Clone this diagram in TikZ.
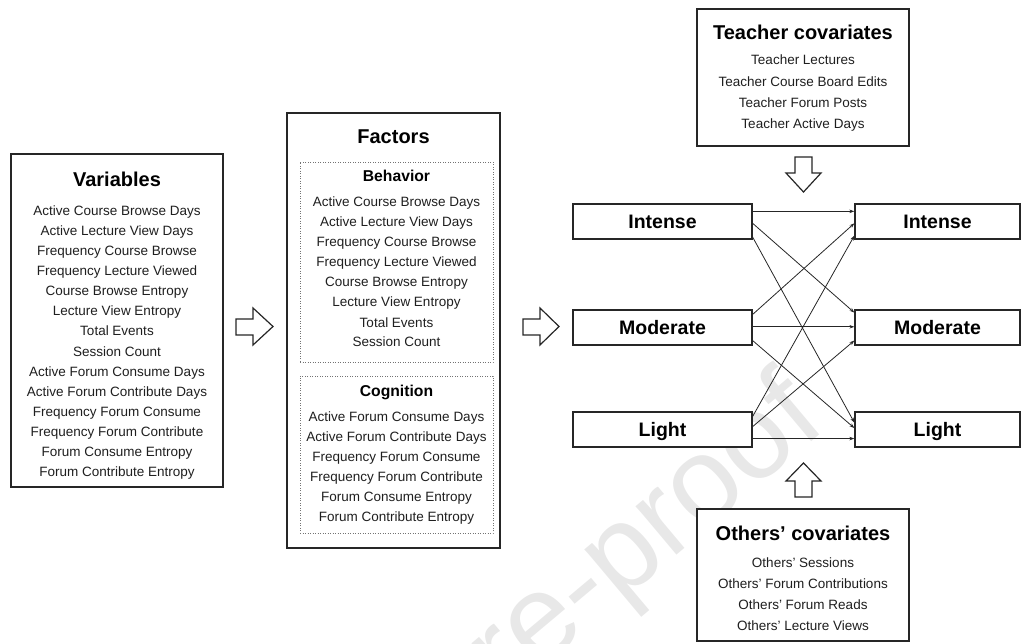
\documentclass[tikz,border=0pt]{standalone}
\usepackage{fontspec}
\setmainfont{Liberation Sans}
\usetikzlibrary{calc,arrows.meta}
\begin{document}
\begin{tikzpicture}[x=1pt,y=-1pt,
  box/.style={draw=black!85, line width=1.3pt, fill=white, inner sep=0pt},
  dotbox/.style={draw=black!55, line width=0.9pt, dash pattern=on 0.9pt off 1.6pt, inner sep=0pt},
  body/.style={font=\fontsize{13.5}{16}\selectfont, text=black!88, inner sep=0pt, anchor=base},
  ttl/.style={font=\fontsize{20}{24}\selectfont\bfseries, text=black, inner sep=0pt, anchor=base},
  subttl/.style={font=\fontsize{15.7}{19}\selectfont\bfseries, text=black, inner sep=0pt, anchor=base},
  lvl/.style={box, minimum height=35pt, text height=14pt, text depth=0pt, font=\fontsize{19.5}{23}\selectfont\bfseries},
  lvlL/.style={lvl, minimum width=179pt},
  lvlR/.style={lvl, minimum width=165pt},
  conn/.style={draw=black!85, line width=0.8pt, -{Stealth[length=5pt,width=3.5pt]}},
  blk/.style={draw=black!85, line width=1.2pt, fill=white, line join=miter},
  wmark/.style={font=\fontsize{120}{125}\selectfont, text=black!9, rotate=40, anchor=base east, inner sep=0pt}
]
\useasboundingbox (0,0) rectangle (1023,644);
\begin{scope}
\clip (0,0) rectangle (1023,644);
\node[wmark] (wm) at (829,427) {Journal Pre-proof};
\end{scope}

% Variables
\node[box, minimum width=212pt, minimum height=333pt] (var) at (117,320.5) {};
\node[ttl] (varT) at (117,187) {Variables};
\foreach \t [count=\i] in {Active Course Browse Days, Active Lecture View Days, Frequency Course Browse, Frequency Lecture Viewed, Course Browse Entropy, Lecture View Entropy, Total Events, Session Count, Active Forum Consume Days, Active Forum Contribute Days, Frequency Forum Consume, Frequency Forum Contribute, Forum Consume Entropy, Forum Contribute Entropy}
  \node[body] (var\i) at (117,{216+(\i-1)*20}) {\t};

% Factors
\node[box, minimum width=213pt, minimum height=435pt] (fac) at (393.5,330.5) {};
\node[ttl] (facT) at (393.5,144) {Factors};
\node[dotbox, minimum width=193pt, minimum height=200pt] (beh) at (396.5,262) {};
\node[subttl] (behT) at (396.5,181.6) {Behavior};
\foreach \t [count=\i] in {Active Course Browse Days, Active Lecture View Days, Frequency Course Browse, Frequency Lecture Viewed, Course Browse Entropy, Lecture View Entropy, Total Events, Session Count}
  \node[body] (beh\i) at (396.5,{207+(\i-1)*20}) {\t};
\node[dotbox, minimum width=193pt, minimum height=157pt] (cog) at (396.5,454.5) {};
\node[subttl] (cogT) at (396.5,396.6) {Cognition};
\foreach \t [count=\i] in {Active Forum Consume Days, Active Forum Contribute Days, Frequency Forum Consume, Frequency Forum Contribute, Forum Consume Entropy, Forum Contribute Entropy}
  \node[body] (cog\i) at (396.5,{421+(\i-1)*20}) {\t};

% Teacher covariates
\node[box, minimum width=212pt, minimum height=137pt] (tea) at (803,77.5) {};
\node[ttl] (teaT) at (803,40) {Teacher covariates};
\foreach \t [count=\i] in {Teacher Lectures, Teacher Course Board Edits, Teacher Forum Posts, Teacher Active Days}
  \node[body] (tea\i) at (803,{65+(\i-1)*21.3}) {\t};

% Others' covariates
\node[box, minimum width=212pt, minimum height=132pt] (oth) at (803,575) {};
\node[ttl] (othT) at (803,540) {Others’ covariates};
\foreach \t [count=\i] in {Others’ Sessions, Others’ Forum Contributions, Others’ Forum Reads, Others’ Lecture Views}
  \node[body] (oth\i) at (803,{567+(\i-1)*21}) {\t};

% Levels
\node[lvlL] (li) at (662.5,221.5) {Intense};
\node[lvlL] (lm) at (662.5,327.5) {Moderate};
\node[lvlL] (ll) at (662.5,429.5) {Light};
\node[lvlR] (ri) at (937.5,221.5) {Intense};
\node[lvlR] (rm) at (937.5,327.5) {Moderate};
\node[lvlR] (rl) at (937.5,429.5) {Light};

% Transitions
\draw[conn] ($(li.north east)!0.22!(li.south east)$) -- ($(ri.north west)!0.22!(ri.south west)$);
\draw[conn] ($(li.north east)!0.55!(li.south east)$) -- ($(rm.north west)!0.09!(rm.south west)$);
\draw[conn] ($(li.north east)!0.93!(li.south east)$) -- ($(rl.north west)!0.31!(rl.south west)$);
\draw[conn] ($(lm.north east)!0.14!(lm.south east)$) -- ($(ri.north west)!0.55!(ri.south west)$);
\draw[conn] ($(lm.north east)!0.48!(lm.south east)$) -- ($(rm.north west)!0.48!(rm.south west)$);
\draw[conn] ($(lm.north east)!0.86!(lm.south east)$) -- ($(rl.north west)!0.46!(rl.south west)$);
\draw[conn] ($(ll.north east)!0.14!(ll.south east)$) -- ($(ri.north west)!0.89!(ri.south west)$);
\draw[conn] ($(ll.north east)!0.42!(ll.south east)$) -- ($(rm.north west)!0.86!(rm.south west)$);
\draw[conn] ($(ll.north east)!0.75!(ll.south east)$) -- ($(rl.north west)!0.75!(rl.south west)$);

% Block arrows
\draw[blk] (236,319) -- (253,319) -- (253,308) -- (273,326.5) -- (253,345) -- (253,335) -- (236,335) -- cycle;
\draw[blk] (523,319) -- (540,319) -- (540,308) -- (559,326.5) -- (540,345) -- (540,335) -- (523,335) -- cycle;
\draw[blk] (795,157) -- (812,157) -- (812,173) -- (821,173) -- (803.5,192) -- (786,173) -- (795,173) -- cycle;
\draw[blk] (803.5,463) -- (821,481) -- (812,481) -- (812,497) -- (795,497) -- (795,481) -- (786,481) -- cycle;
\end{tikzpicture}
\end{document}
